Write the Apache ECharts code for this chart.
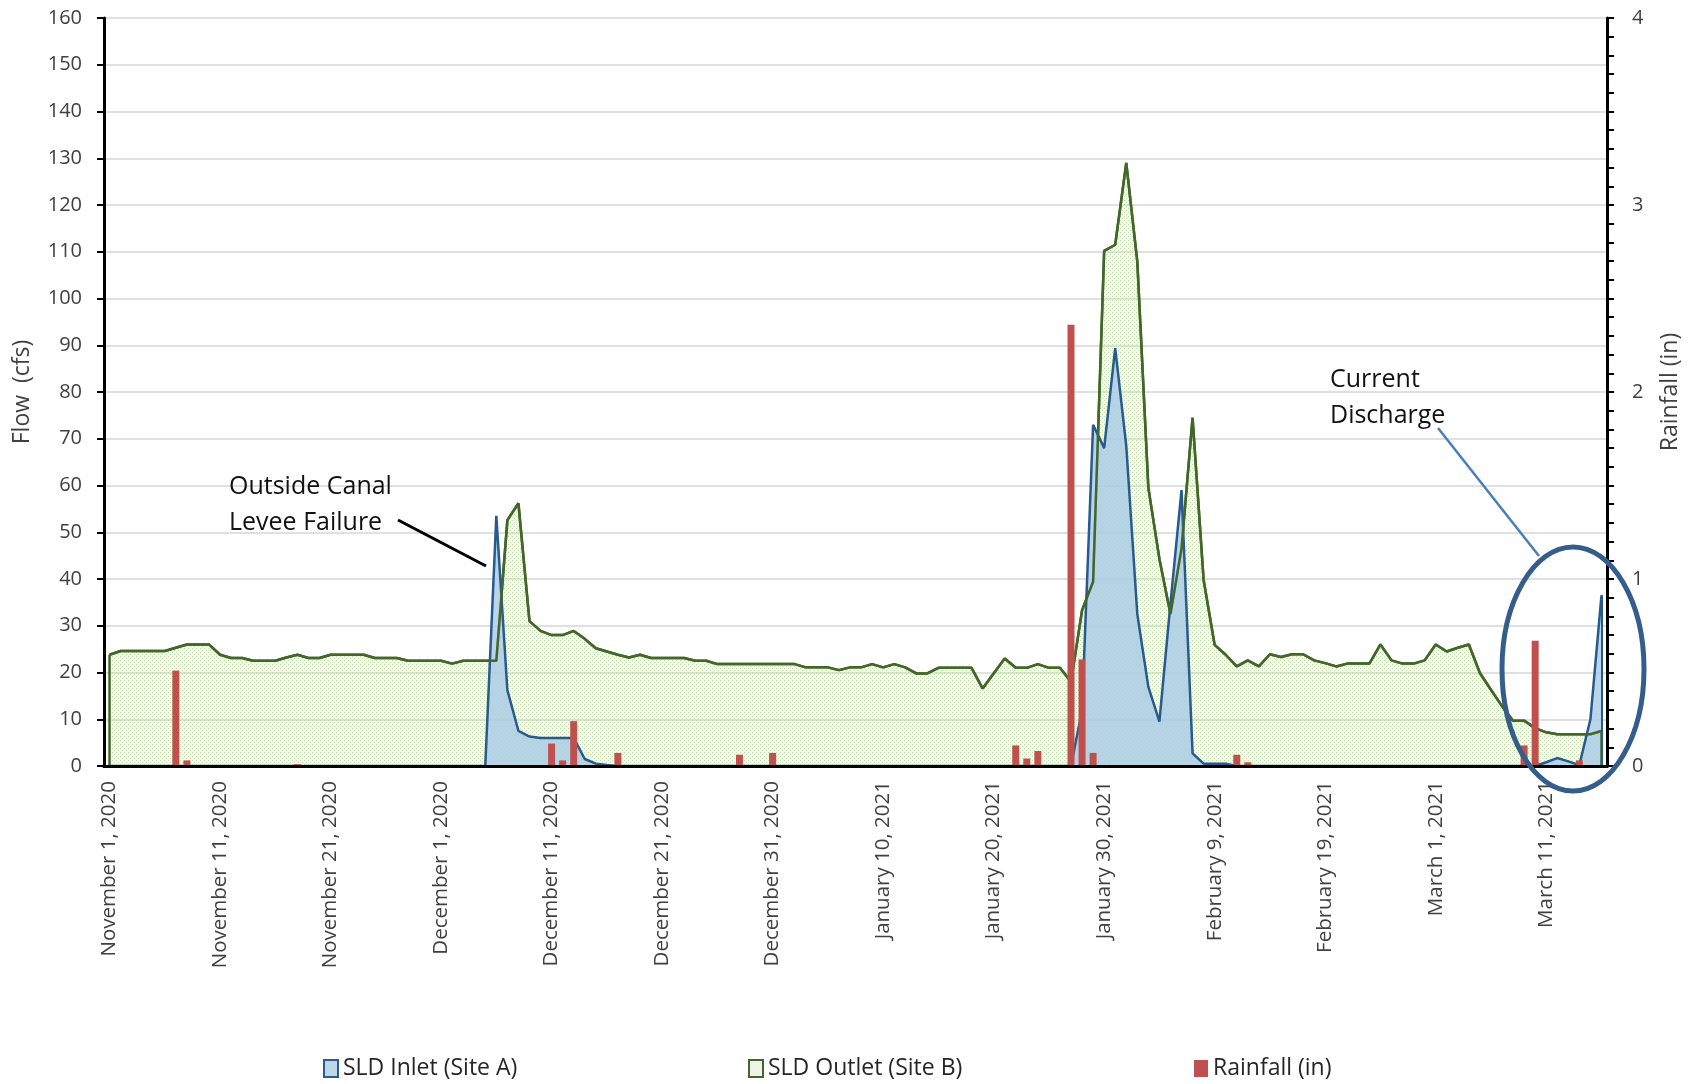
<!DOCTYPE html>
<html><head><meta charset="utf-8">
<script src="https://cdn.jsdelivr.net/npm/echarts/dist/echarts.min.js"></script>
<style>html,body{margin:0;padding:0;background:#fff}#c{width:1695px;height:1084px}</style>
</head><body><div id="c"></div>
<script>
// ---- data ----
const monthSpans = [["November",2020,1,30],["December",2020,1,31],["January",2021,1,31],["February",2021,1,28],["March",2021,1,16]];
const categories = [];
monthSpans.forEach(function(s){for(let d=s[2];d<=s[3];d++)categories.push(s[0]+' '+d+', '+s[1]);});

const inletFlow = [
 0,0,0,0,0,0,0,0,0,0,
 0,0,0,0,0,0,0,0,0,0,
 0,0,0,0,0,0,0,0,0,0,
 0,0,0,0,0,53.5,16.2,7.5,6.3,6.0,
 6.0,6.0,6.0,1.5,0.5,0.2,0,0,0,0,
 0,0,0,0,0,0,0,0,0,0,
 0,0,0,0,0,0,0,0,0,0,
 0,0,0,0,0,0,0,0,0,0,
 0,0,0,0,0,0,0,0,12,73.0,
 68.0,89.4,68.5,32.5,16.9,9.5,34.8,59.0,2.7,0.5,
 0.5,0.5,0,0,0,0,0,0,0,0,
 0,0,0,0,0,0,0,0,0,0,
 0,0,0,0,0,0,0,0,0,0,
 0.8,1.7,1.0,0.2,10,36.5
];
const outletFlow = [
 23.8,24.6,24.6,24.6,24.6,24.6,25.3,26.0,26.0,26.0,
 23.8,23.1,23.1,22.5,22.5,22.5,23.2,23.8,23.1,23.1,
 23.8,23.8,23.8,23.8,23.1,23.1,23.1,22.5,22.5,22.5,
 22.5,21.9,22.5,22.5,22.5,22.5,52.6,56.2,31.0,28.9,
 28.0,28.0,28.9,27.2,25.2,24.5,23.8,23.2,23.8,23.1,
 23.1,23.1,23.1,22.5,22.5,21.8,21.8,21.8,21.8,21.8,
 21.8,21.8,21.8,21.1,21.1,21.1,20.5,21.1,21.1,21.8,
 21.1,21.8,21.1,19.8,19.8,21.0,21.0,21.0,21.0,16.6,
 19.8,23.0,21.0,21.0,21.8,21.0,21.0,18.0,33.3,39.4,
 110.2,111.5,129.0,107.9,59.5,44.3,32.5,46.5,74.5,39.8,
 25.9,23.8,21.3,22.6,21.3,23.9,23.3,23.9,23.9,22.6,
 22.0,21.3,21.9,21.9,21.9,26.0,22.6,21.9,21.9,22.6,
 26.0,24.5,25.3,26.0,19.9,16.3,12.8,9.7,9.7,8.1,
 7.2,6.8,6.8,6.8,6.8,7.5
];
const rainfall = [
 0,0,0,0,0,0,0.51,0.03,0,0,
 0,0,0,0,0,0,0,0.01,0,0,
 0,0,0,0,0,0,0,0,0,0,
 0,0,0,0,0,0,0,0,0,0,
 0.12,0.03,0.24,0,0,0,0.07,0,0,0,
 0,0,0,0,0,0,0,0.06,0,0,
 0.07,0,0,0,0,0,0,0,0,0,
 0,0,0,0,0,0,0,0,0,0,
 0,0,0.11,0.04,0.08,0,0,2.36,0.57,0.07,
 0,0,0,0,0,0,0,0,0,0,
 0,0,0.06,0.02,0,0,0,0,0,0,
 0,0,0,0,0,0,0,0,0,0,
 0,0,0,0,0,0,0,0,0.11,0.67,
 0,0,0,0.03,0,0
];
const flowTicks = {min:0, max:160, step:10};
const rainTicks = {min:0, max:4, step:1};

// ---- styles ----
const FONT = '"Open Sans", "Liberation Sans", sans-serif';
const GREEN = '#43672a', BLUE = '#285a8c', RED = '#c0504d';
const pc = document.createElement('canvas'); pc.width = 4; pc.height = 4;
const g = pc.getContext('2d');
g.fillStyle = 'rgba(215,232,198,0.3)'; g.fillRect(0,0,4,4);
g.fillStyle = 'rgba(185,215,155,0.8)';
g.fillRect(0,0,1,1); g.fillRect(2,2,1,1);
const last = categories.length - 1;

const chart = echarts.init(document.getElementById('c'), null, {width:1695, height:1084});
chart.setOption({
  animation: false,
  backgroundColor: '#fff',
  grid: {left:104, right:88, top:18, bottom:318, show:false},
  legend: [
    {left:318, top:1052, itemWidth:14, itemHeight:17, selectedMode:false,
     textStyle:{fontFamily:FONT, fontSize:23, color:'#262626'},
     data:[{name:'SLD Inlet (Site A)', icon:'rect', itemStyle:{color:'#bcd6ea', borderColor:'#2e5c8a', borderWidth:2}}]},
    {left:743, top:1052, itemWidth:14, itemHeight:17, selectedMode:false,
     textStyle:{fontFamily:FONT, fontSize:23, color:'#262626'},
     data:[{name:'SLD Outlet (Site B)', icon:'rect', itemStyle:{color:'#eef5e6', borderColor:GREEN, borderWidth:2}}]},
    {left:1189, top:1052, itemWidth:14, itemHeight:17, selectedMode:false,
     textStyle:{fontFamily:FONT, fontSize:23, color:'#262626'},
     data:[{name:'Rainfall (in)', icon:'rect', itemStyle:{color:RED, borderWidth:0}}]}
  ],
  xAxis: [{
    type:'category', data:categories, boundaryGap:true, z:6,
    axisLine:{lineStyle:{color:'#000', width:3}},
    axisTick:{interval:0, length:7, lineStyle:{color:'#000', width:2}},
    axisLabel:{interval:9, rotate:90, margin:15, color:'#404040', fontFamily:FONT, fontSize:20.5},
    splitLine:{show:false}
  },{
    type:'category', data:categories, boundaryGap:true, position:'top', z:6,
    axisLine:{show:true, lineStyle:{color:'#000', width:3}},
    axisTick:{show:false}, axisLabel:{show:false}, splitLine:{show:false}
  }],
  yAxis: [
    {type:'value', min:flowTicks.min, max:flowTicks.max, interval:flowTicks.step,
     name:'Flow  (cfs)', nameLocation:'middle', nameGap:70, nameRotate:90,
     nameTextStyle:{fontFamily:FONT, fontSize:23, color:'#404040'},
     axisLine:{show:true, lineStyle:{color:'#000', width:3}},
     axisTick:{show:true, length:7, lineStyle:{color:'#000', width:2}},
     axisLabel:{margin:22, color:'#404040', fontFamily:FONT, fontSize:20},
     splitLine:{show:true, lineStyle:{color:'#e0e0e0', width:2}}},
    {type:'value', min:rainTicks.min, max:rainTicks.max, interval:rainTicks.step, position:'right',
     name:'Rainfall (in)', nameLocation:'middle', nameGap:52, nameRotate:90,
     nameTextStyle:{fontFamily:FONT, fontSize:23, color:'#404040'},
     axisLine:{show:true, lineStyle:{color:'#000', width:3}},
     axisTick:{show:true, length:7, lineStyle:{color:'#000', width:2}},
     minorTick:{show:true, splitNumber:10, length:7, lineStyle:{color:'#000', width:2}},
     axisLabel:{margin:25, color:'#404040', fontFamily:FONT, fontSize:20},
     splitLine:{show:false}}
  ],
  series: [
    {name:'SLD Outlet (Site B)', type:'line', yAxisIndex:0, data:outletFlow, symbol:'none', z:2,
     lineStyle:{color:GREEN, width:2.5}, itemStyle:{color:GREEN},
     areaStyle:{color:{image:pc, repeat:'repeat'}, opacity:1},
     markLine:{silent:true, symbol:'none', label:{show:false}, animation:false,
       lineStyle:{color:GREEN, width:2.5, type:'solid'},
       data:[[{coord:[categories[0],0]},{coord:[categories[0],outletFlow[0]]}],
             [{coord:[categories[last],0]},{coord:[categories[last],outletFlow[last]]}]]}},
    {name:'SLD Inlet (Site A)', type:'line', yAxisIndex:0, data:inletFlow, symbol:'none', z:3,
     lineStyle:{color:BLUE, width:2.5}, itemStyle:{color:BLUE},
     areaStyle:{color:'rgba(170,203,230,0.82)', opacity:1},
     markLine:{silent:true, symbol:'none', label:{show:false}, animation:false,
       lineStyle:{color:BLUE, width:2, type:'solid'},
       data:[[{coord:[categories[last],0]},{coord:[categories[last],inletFlow[last]]}]]}},
    {name:'outlet-edge', type:'line', yAxisIndex:0, data:outletFlow, symbol:'none', z:4, silent:true,
     lineStyle:{color:GREEN, width:2.5}},
    {name:'Rainfall (in)', type:'bar', yAxisIndex:1, data:rainfall, barWidth:7, z:5,
     itemStyle:{color:RED}}
  ],
  graphic: [
    {type:'text', left:229, top:469, z:20,
     style:{text:'Outside Canal\nLevee Failure', fontFamily:FONT, fontSize:25, lineHeight:36, fill:'#111'}},
    {type:'line', z:20, shape:{x1:398, y1:520, x2:486, y2:566}, style:{stroke:'#000', lineWidth:3}},
    {type:'text', left:1330, top:362, z:20,
     style:{text:'Current\nDischarge', fontFamily:FONT, fontSize:25, lineHeight:36, fill:'#111'}},
    {type:'line', z:20, shape:{x1:1438, y1:428, x2:1539, y2:556}, style:{stroke:'#4a7ebb', lineWidth:2.5}},
    {type:'ellipse', z:20, shape:{cx:1573, cy:669, rx:71, ry:122}, style:{fill:'none', stroke:'#355d8c', lineWidth:5}}
  ]
});
</script>
</body></html>
